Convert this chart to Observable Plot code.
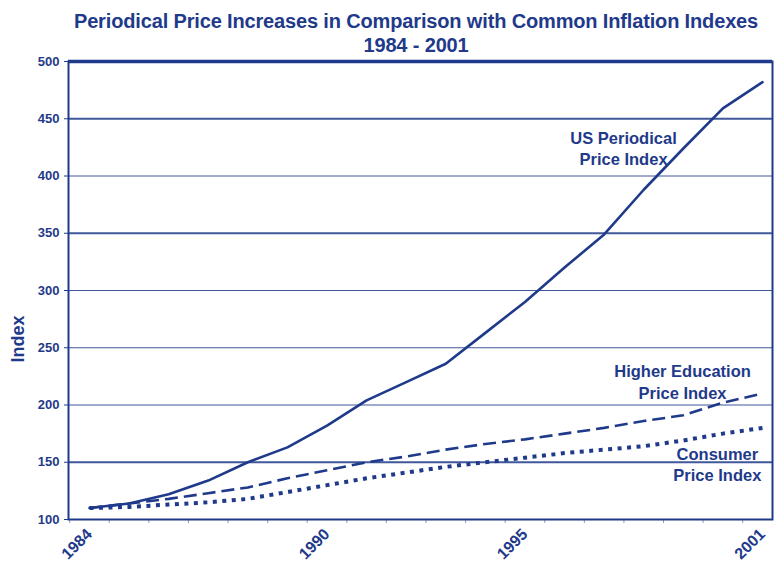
<!DOCTYPE html>
<html>
<head>
<meta charset="utf-8">
<script src="https://cdn.jsdelivr.net/npm/d3@7"></script>
<script src="https://cdn.jsdelivr.net/npm/@observablehq/plot@0.6"></script>
<style>
  body { margin: 0; background: #fff; }
  #wrap { width: 776px; height: 561px; position: relative; overflow: hidden; }
  #title { height: 40px; text-align: center; color: #1f3a8a; position: relative; z-index: 2;
    font-family: "Liberation Sans", Arial, sans-serif; font-weight: bold; letter-spacing: -0.15px;
    font-size: 20px; line-height: 24px; padding-top: 9px; box-sizing: border-box; padding-left: 56px; overflow: visible; }
  svg { display: block; }
</style>
</head>
<body>
<div id="wrap">
  <div id="title">Periodical Price Increases in Comparison with Common Inflation Indexes<br>1984 - 2001</div>
  <div id="chart"></div>
</div>
<script>
const years = [1984,1985,1986,1987,1988,1989,1990,1991,1992,1993,1994,1995,1996,1997,1998,1999,2000,2001];
const usPeriodical = [110,114,122,134,150,163,182,204,220,236,263,290,320,349,388,424,459,482];
const higherEd     = [110,114,118,123,128,136,143,150,155,161,166,170,175,180,186,191,202,210];
const consumer     = [110,111,113,115,118,124,130,136,141,146,150,154,158,161,164,169,175,180];
const yTicks = [100,150,200,250,300,350,400,450,500];
const xTickLabels = [1984,1990,1995,2001];
const seriesNames = ["US Periodical Price Index","Higher Education Price Index","Consumer Price Index"];
const labels = [
  {text: "US Periodical\nPrice Index", year: 1997.49, value: 425},
  {text: "Higher Education\nPrice Index", year: 1998.98, value: 221},
  {text: "Consumer\nPrice Index", year: 1999.86, value: 149}
];

const navy = "#1f3a8a";
const rows = [];
[usPeriodical, higherEd, consumer].forEach((vals, s) => {
  years.forEach((y, i) => rows.push({series: seriesNames[s], year: y, value: vals[i]}));
});
const gridVals = yTicks.filter(v => v > 100 && v < 500);
const thickGrid = new Set([150,350,450]);

const chart = Plot.plot({
  width: 776,
  height: 521,
  marginTop: 21,
  marginBottom: 42,
  marginLeft: 68,
  marginRight: 4,
  style: {fontFamily: "'Liberation Sans', Arial, sans-serif", color: navy, background: "transparent", overflow: "visible"},
  x: {domain: [1983.47, 2001.253]},
  y: {domain: [100, 500]},
  marks: [
    Plot.ruleY(gridVals, {stroke: navy, strokeOpacity: 0.85, strokeWidth: d => thickGrid.has(d) ? 1.8 : 1}),
    Plot.axisY({ticks: yTicks, tickSize: 4, tickPadding: 5, fontSize: 13, fontWeight: "bold", fill: navy, stroke: navy, label: null}),
    Plot.axisX({ticks: d3.range(1983.5, 2001, 1), tickSize: 4, tickFormat: () => "", stroke: navy, strokeOpacity: 0.5, label: null}),
    Plot.axisX({ticks: xTickLabels, tickSize: 0, tickPadding: 12, tickRotate: -45, tickFormat: d => String(d), fontSize: 16, fontWeight: "bold", fill: navy, label: null}),
    Plot.line(rows.filter(d => d.series === seriesNames[2]), {x: "year", y: "value", stroke: navy, strokeWidth: 4, strokeDasharray: "4,5.5", strokeLinecap: "butt"}),
    Plot.line(rows.filter(d => d.series === seriesNames[1]), {x: "year", y: "value", stroke: navy, strokeWidth: 2.6, strokeDasharray: "13,6", strokeLinecap: "butt"}),
    Plot.line(rows.filter(d => d.series === seriesNames[0]), {x: "year", y: "value", stroke: navy, strokeWidth: 2.6}),
    Plot.frame({stroke: navy, strokeWidth: 2}),
    Plot.ruleY([500], {stroke: navy, strokeWidth: 3.5}),
    Plot.text(labels, {x: "year", y: "value", text: "text", fill: navy, fontSize: 16.5, fontWeight: "bold", lineHeight: 1.3, textAnchor: "middle"})
  ]
});
document.getElementById("chart").appendChild(chart);

// Y axis title
const svg = d3.select(chart);
svg.append("text")
  .attr("transform", "translate(24,299) rotate(-90)")
  .attr("text-anchor", "middle")
  .attr("fill", navy)
  .attr("font-size", 18)
  .attr("font-weight", "bold")
  .attr("font-family", "'Liberation Sans', Arial, sans-serif")
  .text("Index");
</script>
</body>
</html>
